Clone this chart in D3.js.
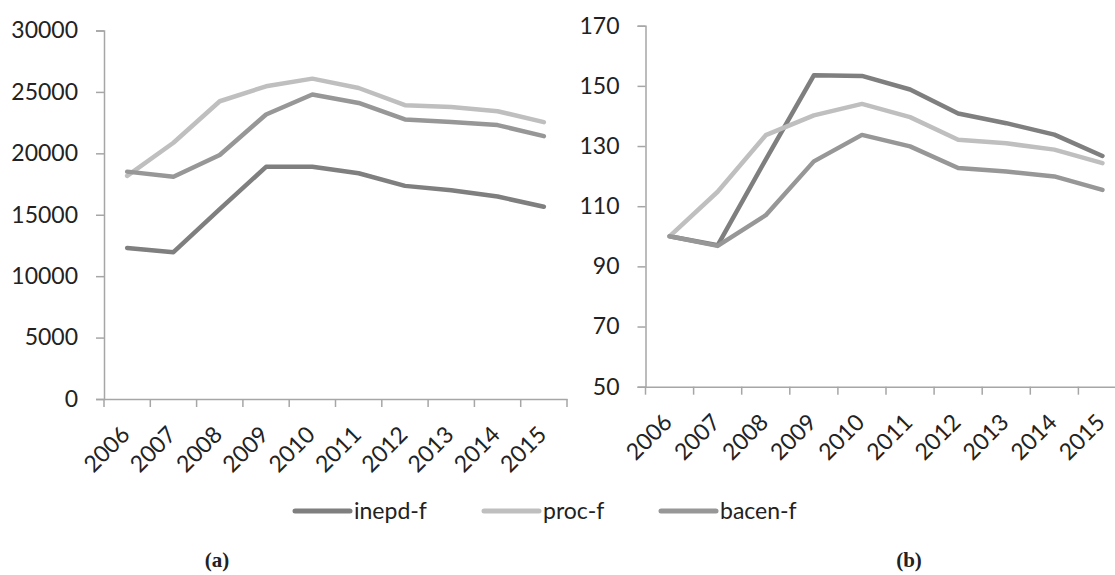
<!DOCTYPE html>
<html>
<head>
<meta charset="utf-8">
<script src="https://cdn.jsdelivr.net/npm/d3@7"></script>
<style>
  body { margin: 0; background: #fff; }
  svg text { font-family: Lato, "Open Sans", sans-serif; fill: #222; }
</style>
</head>
<body>
<svg id="chart" width="1115" height="575"></svg>
<script>
// data
var years = ["2006","2007","2008","2009","2010","2011","2012","2013","2014","2015"];
var seriesNames = ["inepd-f", "proc-f", "bacen-f"];
var seriesColors = ["#7f7f7f", "#bfbfbf", "#979797"];

// (a) absolute values
var inepdA = [12300, 11950, 15450, 18900, 18900, 18380, 17350, 17000, 16480, 15650];
var procA  = [18160, 20860, 24240, 25460, 26080, 25320, 23920, 23780, 23430, 22540];
var bacenA = [18510, 18100, 19860, 23160, 24790, 24100, 22760, 22560, 22300, 21400];

// (b) index, 2006 = 100
var inepdB = [100, 97, 125.5, 153.5, 153.3, 148.8, 140.8, 137.6, 133.8, 126.7];
var procB  = [100, 114.8, 133.6, 140.2, 144, 139.6, 132.1, 130.9, 128.8, 124.3];
var bacenB = [100, 96.8, 107, 124.9, 133.7, 129.9, 122.7, 121.5, 119.9, 115.4];

var ticksA = [0, 5000, 10000, 15000, 20000, 25000, 30000];
var ticksB = [50, 70, 90, 110, 130, 150, 170];

var svg = d3.select("#chart");

//draw one panel
function drawPanel(left, right, top, bottom, domain, ticks, seriesData) {
	var x = d3.scaleBand().domain(years).range([left, right]);
	var y = d3.scaleLinear().domain(domain).range([bottom, top]);
	var g = svg.append("g");

	//y axis
	var yAxis = g.append("g")
		.attr("transform", "translate(" + left + ",0)")
		.call(d3.axisLeft(y).tickValues(ticks).tickSize(8).tickPadding(18).tickFormat(d3.format("d")));
	yAxis.select(".domain").attr("stroke", "#a6a6a6").attr("stroke-width", 1.5);
	yAxis.selectAll(".tick line").attr("stroke", "#a6a6a6").attr("stroke-width", 1.5);
	yAxis.selectAll(".tick text").attr("font-size", 23).attr("fill", "#222")
		.style("font-family", "Lato, sans-serif");

	//x axis
	var xAxis = g.append("g")
		.attr("transform", "translate(0," + bottom + ")")
		.call(d3.axisBottom(x).tickSize(0).tickFormat(""));
	xAxis.select(".domain").attr("stroke", "#a6a6a6").attr("stroke-width", 1.5);
	xAxis.selectAll(".tick").remove();

	// band edge ticks
	var edges = years.map(function(d) { return x(d); });
	edges.push(right);
	g.selectAll(".xtick")
		.data(edges)
		.enter()
		.append("line")
		.attr("x1", function(d) { return d; })
		.attr("x2", function(d) { return d; })
		.attr("y1", bottom)
		.attr("y2", bottom + 8)
		.attr("stroke", "#a6a6a6")
		.attr("stroke-width", 1.5);

	// rotated labels
	g.selectAll(".xlab")
		.data(years)
		.enter()
		.append("text")
		.attr("text-anchor", "end")
		.attr("font-size", 23)
		.attr("transform", function(d) {
			var cx = x(d) + x.bandwidth() / 2 + 4;
			return "translate(" + cx + "," + (bottom + 37) + ") rotate(-45)";
		})
		.text(function(d) { return d; });

	//lines
	var line = d3.line()
		.x(function(d, i) { return x(years[i]) + x.bandwidth() / 2; })
		.y(function(d) { return y(d); });

	seriesData.forEach(function(s, i) {
		g.append("path")
			.datum(s)
			.attr("d", line)
			.attr("fill", "none")
			.attr("stroke", seriesColors[i])
			.attr("stroke-width", 4.5)
			.attr("stroke-linejoin", "round")
			.attr("stroke-linecap", "round");
	});
}

drawPanel(104, 567, 30.5, 399, [0, 30000], ticksA, [inepdA, procA, bacenA]);
drawPanel(645.5, 1126.5, 25.7, 386.7, [50, 170], ticksB, [inepdB, procB, bacenB]);

//legend
var legendX = [295, 484, 661];
var legend = svg.selectAll(".legend")
	.data(seriesNames)
	.enter()
	.append("g")
	.attr("transform", function(d, i) { return "translate(" + legendX[i] + ",511)"; });

legend.append("line")
	.attr("x1", 0)
	.attr("x2", 55)
	.attr("stroke", function(d, i) { return seriesColors[i]; })
	.attr("stroke-width", 5)
	.attr("stroke-linecap", "round");

legend.append("text")
	.attr("x", 59)
	.attr("y", 8)
	.attr("font-size", 23)
	.text(function(d) { return d; });

//panel captions
svg.selectAll(".cap")
	.data(["(a)", "(b)"])
	.enter()
	.append("text")
	.attr("x", function(d, i) { return i == 0 ? 217 : 909; })
	.attr("y", 567)
	.attr("text-anchor", "middle")
	.attr("font-size", 21)
	.attr("font-weight", "bold")
	.style("font-family", "'Liberation Serif', 'Times New Roman', serif")
	.text(function(d) { return d; });
</script>
</body>
</html>
